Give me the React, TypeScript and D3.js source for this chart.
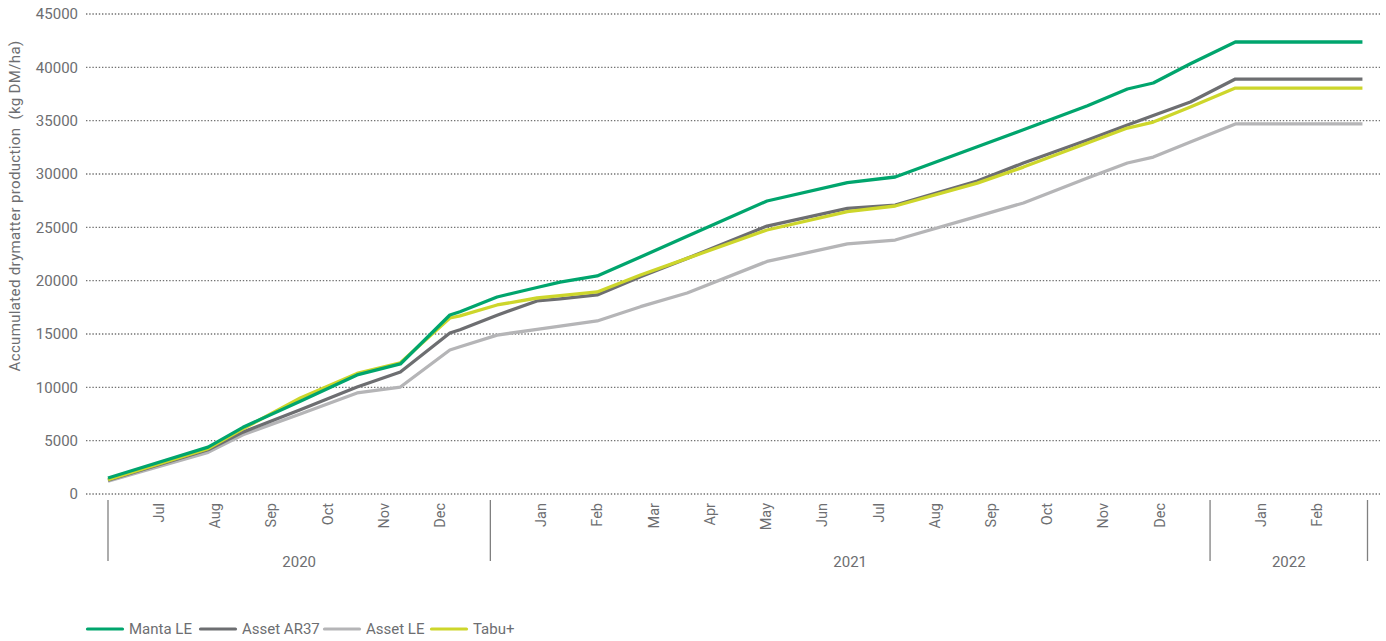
import React from "react";
import * as d3 from "d3";

// ---------- data ----------
const years = ["2020", "2021", "2022"];
const months2020 = ["Jul", "Aug", "Sep", "Oct", "Nov", "Dec"];
const months2021 = ["Jan", "Feb", "Mar", "Apr", "May", "Jun", "Jul", "Aug", "Sep", "Oct", "Nov", "Dec"];
const months2022 = ["Jan", "Feb"];
const yTicks = [0, 5000, 10000, 15000, 20000, 25000, 30000, 35000, 40000, 45000];

// sample positions along the category axis (month-slot units from the first year divider)
const samplePos = [0, 1.78, 2.4, 3.42, 4.43, 5.2, 6.08, 6.26, 6.92, 7.63, 8.04, 8.7, 9.47, 10.3, 11.72, 13.15, 14.0, 15.46, 16.28, 17.42, 18.13, 18.59, 19.25, 20.05, 22.31];

const mantaLE = [1500, 4400, 6250, 8700, 11160, 12190, 16780, 17090, 18470, 19360, 19870, 20440, 22220, 24160, 27470, 29200, 29720, 32560, 34150, 36400, 37970, 38530, 40340, 42375, 42375];
const assetAR37 = [1300, 4150, 5800, 7900, 10030, 11440, 15090, 15400, 16760, 18100, 18290, 18660, 20370, 22090, 25120, 26780, 27090, 29340, 31030, 33190, 34590, 35480, 36750, 38900, 38900];
const assetLE = [1200, 3900, 5550, 7500, 9470, 10030, 13500, 13800, 14900, 15430, 15730, 16220, 17560, 18840, 21800, 23440, 23810, 26030, 27280, 29620, 31030, 31590, 33000, 34690, 34690];
const tabuPlus = [1350, 4250, 6100, 9000, 11300, 12300, 16500, 16700, 17720, 18375, 18590, 18940, 20530, 22090, 24750, 26470, 27000, 29150, 30650, 32900, 34310, 34870, 36280, 38060, 38060];

const seriesNames = ["Manta LE", "Asset AR37", "Asset LE", "Tabu+"];
const seriesValues = [mantaLE, assetAR37, assetLE, tabuPlus];
const seriesColors = ["#00a56d", "#6d6e71", "#b5b5b7", "#cdd62b"];
const drawOrder = [2, 1, 3, 0];

// ---------- layout ----------
const W = 1386;
const H = 641;
const EDGE = 0.9; // slot margin inside each year group
const monthGroups = [months2020, months2021, months2022];

export default function App() {
  let acc = 0;
  const groups = monthGroups.map((ms, i) => {
    const start = acc;
    const width = ms.length - 1 + 2 * EDGE;
    acc += width;
    return { year: years[i], months: ms, start, end: start + width };
  });
  const total = acc;

  const x = d3.scaleLinear().domain([0, total]).range([108, 1367.5]);
  const y = d3.scaleLinear().domain([0, 45000]).range([494, 14]);

  const line = d3
    .line<number>()
    .x((_, i) => x(samplePos[i]))
    .y((v) => y(v));

  const font = "Roboto, 'Noto Sans', sans-serif";
  const textCol = "#6d6e71";

  const legendX = [86, 199, 323, 430];

  return (
    <svg
      width={W}
      height={H}
      style={{ position: "absolute", left: 0, top: 0, background: "#fff" }}
      fontFamily={font}
    >
      {yTicks.map((t) => (
        <g key={t}>
          <line
            x1={86}
            x2={1380}
            y1={y(t)}
            y2={y(t)}
            stroke="#737373"
            strokeWidth={1.4}
            strokeDasharray="1.4 1.8"
          />
          <text x={78} y={y(t)} dy="0.36em" textAnchor="end" fontSize={15} fill={textCol}>
            {t}
          </text>
        </g>
      ))}

      <text
        transform={`translate(20, 206) rotate(-90)`}
        textAnchor="middle"
        fontSize={15}
        letterSpacing={0.35}
        fill={textCol}
        style={{ whiteSpace: "pre" }}
      >
        {"Accumulated drymatter production  (kg DM/ha)"}
      </text>

      {groups.map((g, gi) => (
        <g key={g.year}>
          {gi === 0 && (
            <line x1={x(g.start)} x2={x(g.start)} y1={500} y2={561} stroke="#808080" strokeWidth={1.3} />
          )}
          <line x1={x(g.end)} x2={x(g.end)} y1={500} y2={561} stroke="#808080" strokeWidth={1.3} />
          <text x={x((g.start + g.end) / 2)} y={567} textAnchor="middle" fontSize={15} fill={textCol}>
            {g.year}
          </text>
          {g.months.map((m, mi) => {
            const cx = x(g.start + EDGE + mi);
            return (
              <text
                key={m + mi}
                transform={`translate(${cx}, 503) rotate(-90)`}
                textAnchor="end"
                dy="0.36em"
                fontSize={14.5}
                fill={textCol}
              >
                {m}
              </text>
            );
          })}
        </g>
      ))}

      {drawOrder.map((si) => (
        <path
          key={seriesNames[si]}
          d={line(seriesValues[si]) || ""}
          fill="none"
          stroke={seriesColors[si]}
          strokeWidth={3.3}
          strokeLinejoin="round"
          strokeLinecap="butt"
        />
      ))}

      {seriesNames.map((n, i) => (
        <g key={n} transform={`translate(${legendX[i]}, 629)`}>
          <line x1={1.5} x2={36.5} y1={0} y2={0} stroke={seriesColors[i]} strokeWidth={3.2} strokeLinecap="round" />
          <text x={43} y={0} dy="0.36em" fontSize={15} fill={textCol}>
            {n}
          </text>
        </g>
      ))}
    </svg>
  );
}
